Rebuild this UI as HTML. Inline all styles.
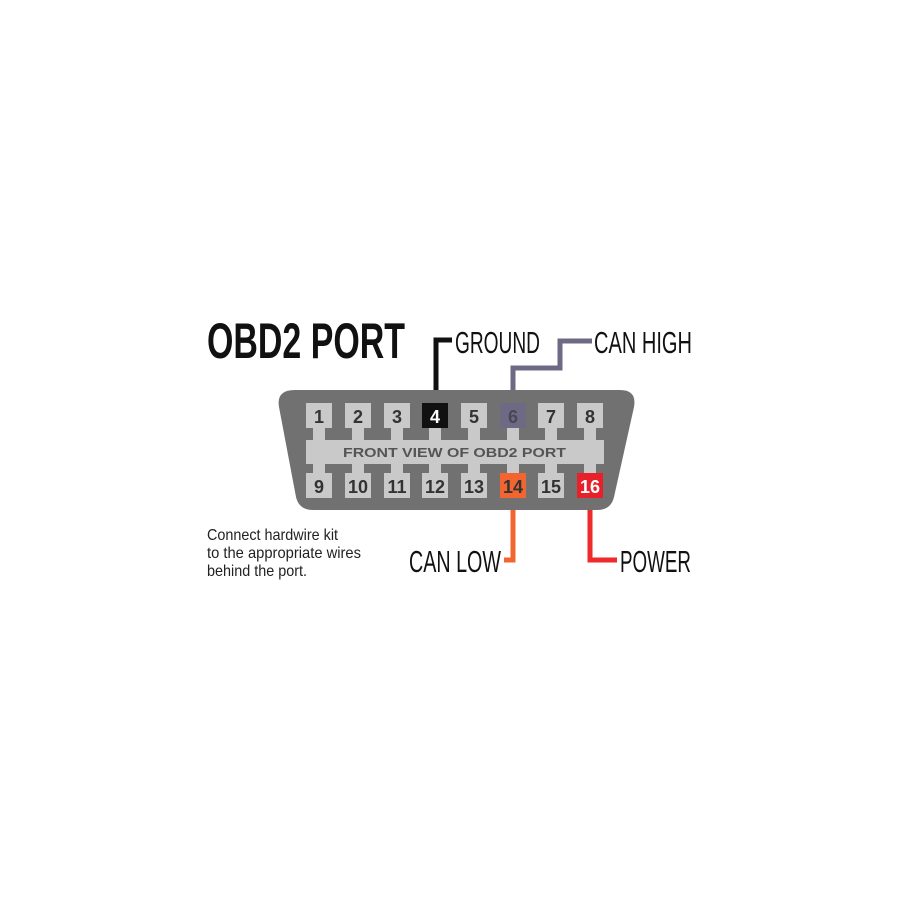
<!DOCTYPE html>
<html><head><style>
html,body{margin:0;padding:0;background:#fff;}
svg{display:block;}
</style></head><body>
<svg width="900" height="900" viewBox="0 0 900 900" xmlns="http://www.w3.org/2000/svg">
<rect width="900" height="900" fill="#fff"/>
<polyline points="436,410 436,340 452,340" fill="none" stroke="#111" stroke-width="5"/>
<polyline points="513,410 513,368 560,368 560,341 592,341" fill="none" stroke="#6f6a84" stroke-width="5"/>
<polyline points="513,490 513,560 504,560" fill="none" stroke="#f26430" stroke-width="5"/>
<polyline points="590,490 590,560 617,560" fill="none" stroke="#ee2a2a" stroke-width="5"/>
<path d="M295,390 L620,390 Q637,390 634,407 L614,497 Q611,510 597,510 L313,510 Q299,510 296,497 L279,407 Q276,390 295,390 Z" fill="#717171"/>
<g fill="#c9c9c9">
<rect x="306" y="440" width="298" height="24"/>
<rect x="313" y="426" width="12" height="50"/><rect x="352" y="426" width="12" height="50"/>
<rect x="391" y="426" width="12" height="50"/><rect x="429" y="426" width="12" height="50"/>
<rect x="468" y="426" width="12" height="50"/><rect x="507" y="426" width="12" height="50"/>
<rect x="545" y="426" width="12" height="50"/><rect x="584" y="426" width="12" height="50"/>
<rect x="306" y="403" width="26" height="25"/><rect x="345" y="403" width="26" height="25"/>
<rect x="384" y="403" width="26" height="25"/>
<rect x="461" y="403" width="26" height="25"/>
<rect x="538" y="403" width="26" height="25"/><rect x="577" y="403" width="26" height="25"/>
<rect x="306" y="473" width="26" height="25"/><rect x="345" y="473" width="26" height="25"/>
<rect x="384" y="473" width="26" height="25"/><rect x="422" y="473" width="26" height="25"/>
<rect x="461" y="473" width="26" height="25"/>
<rect x="538" y="473" width="26" height="25"/>
</g>
<rect x="422" y="403" width="26" height="25" fill="#111"/>
<rect x="500" y="403" width="26" height="25" fill="#6f6a84"/>
<rect x="500" y="473" width="26" height="25" fill="#f26430"/>
<rect x="577" y="473" width="26" height="25" fill="#e8202a"/>
<g font-family="Liberation Sans, sans-serif" font-weight="bold" font-size="18" text-anchor="middle" fill="#333">
<text x="319" y="423">1</text><text x="358" y="423">2</text><text x="397" y="423">3</text>
<text x="435" y="423" fill="#fff">4</text><text x="474" y="423">5</text><text x="513" y="423" fill="#4a4658">6</text>
<text x="551" y="423">7</text><text x="590" y="423">8</text>
<text x="319" y="493">9</text><text x="358" y="493">10</text><text x="397" y="493">11</text>
<text x="435" y="493">12</text><text x="474" y="493">13</text><text x="513" y="493">14</text>
<text x="551" y="493">15</text><text x="590" y="493" fill="#fff">16</text>
</g>
<text x="343" y="457" font-family="Liberation Sans, sans-serif" font-weight="bold" font-size="13" fill="#555" textLength="223" lengthAdjust="spacingAndGlyphs">FRONT VIEW OF OBD2 PORT</text>
<text x="207" y="358" font-family="Liberation Sans, sans-serif" font-weight="bold" font-size="50" fill="#111" textLength="198" lengthAdjust="spacingAndGlyphs">OBD2 PORT</text>
<g font-family="Liberation Sans, sans-serif" font-size="31" fill="#111">
<text x="455" y="353" textLength="85" lengthAdjust="spacingAndGlyphs">GROUND</text>
<text x="594" y="353" textLength="98" lengthAdjust="spacingAndGlyphs">CAN HIGH</text>
<text x="409" y="572" textLength="92" lengthAdjust="spacingAndGlyphs">CAN LOW</text>
<text x="620" y="572" textLength="71" lengthAdjust="spacingAndGlyphs">POWER</text>
</g>
<g font-family="Liberation Sans, sans-serif" font-size="16" fill="#222">
<text x="207" y="540" textLength="131" lengthAdjust="spacingAndGlyphs">Connect hardwire kit</text>
<text x="207" y="558" textLength="154" lengthAdjust="spacingAndGlyphs">to the appropriate wires</text>
<text x="207" y="576" textLength="100" lengthAdjust="spacingAndGlyphs">behind the port.</text>
</g>
</svg>
</body></html>
